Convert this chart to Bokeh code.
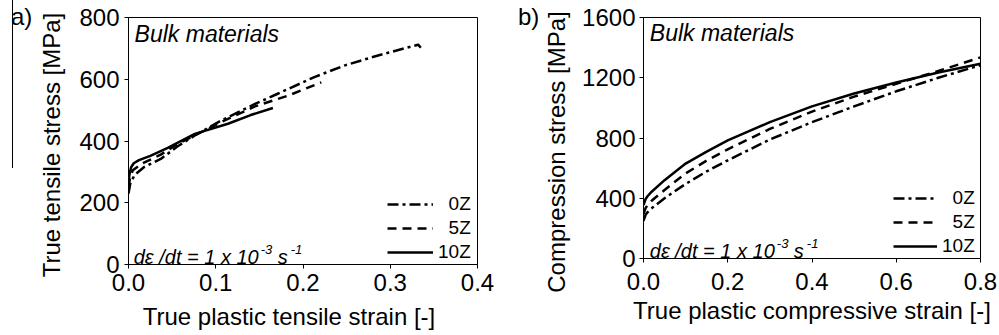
from bokeh.plotting import figure
from bokeh.layouts import row, column
from bokeh.models import (Range1d, FixedTicker, PrintfTickFormatter, Label,
                          Legend, LegendItem, Div)
from bokeh.embed import file_html
from bokeh.resources import INLINE

FONT = "Liberation Sans"

# ---------------- Panel a: tensile ----------------
t_x_0Z = [0.0, 0.002, 0.007, 0.018, 0.037, 0.056, 0.076, 0.106, 0.145, 0.171, 0.213, 0.248, 0.286, 0.332, 0.335]
t_y_0Z = [230, 262, 290, 316, 342, 382, 418, 466, 520, 553, 607, 645, 677, 712, 702]
t_x_5Z = [0.0, 0.002, 0.005, 0.015, 0.037, 0.056, 0.076, 0.106, 0.145, 0.183, 0.221]
t_y_5Z = [250, 285, 305, 326, 356, 390, 418, 461, 512, 547, 590]
t_x_10Z = [0.0, 0.001, 0.003, 0.006, 0.012, 0.025, 0.045, 0.076, 0.114, 0.14, 0.1655]
t_y_10Z = [258, 290, 315, 328, 338, 352, 378, 423, 456, 484, 507]

a_xticks = [0.0, 0.1, 0.2, 0.3, 0.4]
a_yticks = [0, 200, 400, 600, 800]

# ---------------- Panel b: compression ----------------
c_x = [0.0, 0.005, 0.01, 0.02, 0.05, 0.1, 0.15, 0.2, 0.3, 0.4, 0.5, 0.6, 0.7, 0.8]
c_y_0Z = [250, 290, 308, 335, 400, 495, 578, 652, 790, 905, 1010, 1110, 1200, 1283]
c_y_5Z = [295, 335, 355, 385, 455, 565, 650, 725, 860, 975, 1075, 1160, 1245, 1335]
c_y_10Z = [355, 395, 415, 445, 520, 630, 710, 784, 905, 1010, 1095, 1168, 1235, 1293]

b_xticks = [0.0, 0.2, 0.4, 0.6, 0.8]
b_yticks = [0, 400, 800, 1200, 1600]

series_labels = ["\u20070Z", "\u20075Z", "10Z"]
dashes = ["11 4 3 4", "9 6", "solid"]

# strain-rate note: pieces (text, x offset px, font size, superscript?)
rate_parts = [("d\u03b5 /dt = 1 x 10", 0, "20px", False),
              ("-3", 127, "13px", True),
              ("s", 144, "20px", False),
              ("-1", 157, "13px", True)]

a_xlabel = "True plastic tensile strain [-]"
a_ylabel = "True tensile stress [MPa]"
b_xlabel = "True plastic compressive strain [-]"
b_ylabel = "Compression stress [MPa]"

TXT = "font-family:'Liberation Sans';font-size:24px;line-height:24px;color:#000;white-space:nowrap;"


def style(p, xticks, yticks, x_std, y_std):
    xa, ya = p.xaxis[0], p.yaxis[0]
    xa.ticker = FixedTicker(ticks=xticks, num_minor_ticks=2)
    ya.ticker = FixedTicker(ticks=yticks, num_minor_ticks=2)
    xa.formatter = PrintfTickFormatter(format="%.1f")
    ya.formatter = PrintfTickFormatter(format="%d")
    for ax in (xa, ya):
        ax.axis_line_color = "black"
        ax.axis_line_width = 1
        ax.major_tick_line_color = "black"
        ax.minor_tick_line_color = "black"
        ax.major_tick_in = 0
        ax.minor_tick_in = 0
        ax.major_tick_out = 4
        ax.minor_tick_out = 3
        ax.major_label_text_font = FONT
        ax.major_label_text_font_size = "24px"
        ax.major_label_text_color = "black"
        ax.axis_label_text_font = FONT
        ax.axis_label_text_font_size = "24px"
        ax.axis_label_text_font_style = "normal"
        ax.axis_label_text_color = "black"
    xa.major_label_standoff = x_std
    ya.major_label_standoff = y_std
    p.xgrid.visible = False
    p.ygrid.visible = False
    p.outline_line_color = "black"
    p.outline_line_width = 1
    p.outline_line_alpha = 1
    p.background_fill_color = "white"
    p.border_fill_color = "white"


def add_curves_and_legend(p, xs_list, ys_list, loc, gw):
    rends = []
    for xs, ys, d in zip(xs_list, ys_list, dashes):
        r = p.line(xs, ys, line_color="black", line_width=2.5, line_dash=d,
                   line_join="round")
        rends.append(r)
    items = [LegendItem(label=lab, renderers=[r]) for lab, r in zip(series_labels, rends)]
    leg = Legend(items=items, location=loc, orientation="vertical",
                 glyph_width=gw, glyph_height=20, label_height=20, label_width=10,
                 label_standoff=5, spacing=2, padding=0, margin=0,
                 border_line_color=None, background_fill_alpha=0,
                 label_text_font=FONT, label_text_font_size="19px",
                 label_text_color="black")
    p.add_layout(leg)


def add_rate_note(p, x, y_base, y_sup):
    for txt, dx, size, sup in rate_parts:
        p.add_layout(Label(x=x, y=(y_sup if sup else y_base), x_offset=dx, text=txt,
                           text_font=FONT, text_font_size=size, text_font_style="italic",
                           text_baseline="alphabetic", text_color="black"))


def vlabel(text, cx, cy):
    return ('<div style="position:absolute;left:%.1fpx;top:%.1fpx;'
            'transform:translate(-50%%,-50%%) rotate(-90deg);%s">%s</div>' % (cx, cy, TXT, text))


# ----- left strip: tag "a)", rule, y label of panel a -----
div_a = Div(width=68, height=335, margin=(0, 0, 0, 0), text=(
    '<div style="position:relative;width:68px;height:335px;">'
    '<div style="position:absolute;left:12px;top:0px;width:1px;height:168px;background:#000;"></div>'
    '<div style="position:absolute;left:11px;top:5px;' + TXT + '">a)</div>'
    + vlabel(a_ylabel, 51.7, 145) + '</div>'))

# ----- figure a -----
pa = figure(width=440, height=301, x_range=Range1d(0, 0.4), y_range=Range1d(0, 800),
            output_backend="svg", toolbar_location=None,
            min_border_left=60, min_border_right=31, min_border_top=17, min_border_bottom=37)
style(pa, a_xticks, a_yticks, 5, 5)
add_curves_and_legend(pa, [t_x_0Z, t_x_5Z, t_x_10Z], [t_y_0Z, t_y_5Z, t_y_10Z], (259, 1), 46)
pa.add_layout(Label(x=0.007, y=745, text="Bulk materials", text_font=FONT,
                    text_font_size="23px", text_font_style="italic",
                    text_baseline="alphabetic", text_color="black"))
add_rate_note(pa, 0.006, 24, 48)

div_xa = Div(width=440, height=34, margin=(0, 0, 0, 0), text=(
    '<div style="position:relative;width:440px;height:34px;">'
    '<div style="position:absolute;left:221px;top:4px;transform:translateX(-50%);' + TXT + '">'
    + a_xlabel + '</div></div>'))

# ----- middle strip: tag "b)", y label of panel b -----
div_b = Div(width=65, height=335, margin=(0, 0, 0, 0), text=(
    '<div style="position:relative;width:65px;height:335px;">'
    '<div style="position:absolute;left:10px;top:5px;' + TXT + '">b)</div>'
    + vlabel(b_ylabel, 48.7, 151.5) + '</div>'))

# ----- figure b -----
pb = figure(width=426, height=335, x_range=Range1d(0, 0.8), y_range=Range1d(0, 1600),
            output_backend="svg", toolbar_location=None,
            min_border_left=70, min_border_right=19, min_border_top=17, min_border_bottom=77)
style(pb, b_xticks, b_yticks, 10, 4)
pb.xaxis[0].axis_label = b_xlabel
pb.xaxis[0].axis_label_standoff = 4
add_curves_and_legend(pb, [c_x, c_x, c_x], [c_y_0Z, c_y_5Z, c_y_10Z], (250, 1), 44)
pb.add_layout(Label(x=0.015, y=1500, text="Bulk materials", text_font=FONT,
                    text_font_size="23px", text_font_style="italic",
                    text_baseline="alphabetic", text_color="black"))
add_rate_note(pb, 0.015, 50, 99)

layout = row(div_a, column(pa, div_xa, spacing=0), div_b, pb, spacing=0)
open("out.html", "w").write(file_html(layout, INLINE))
